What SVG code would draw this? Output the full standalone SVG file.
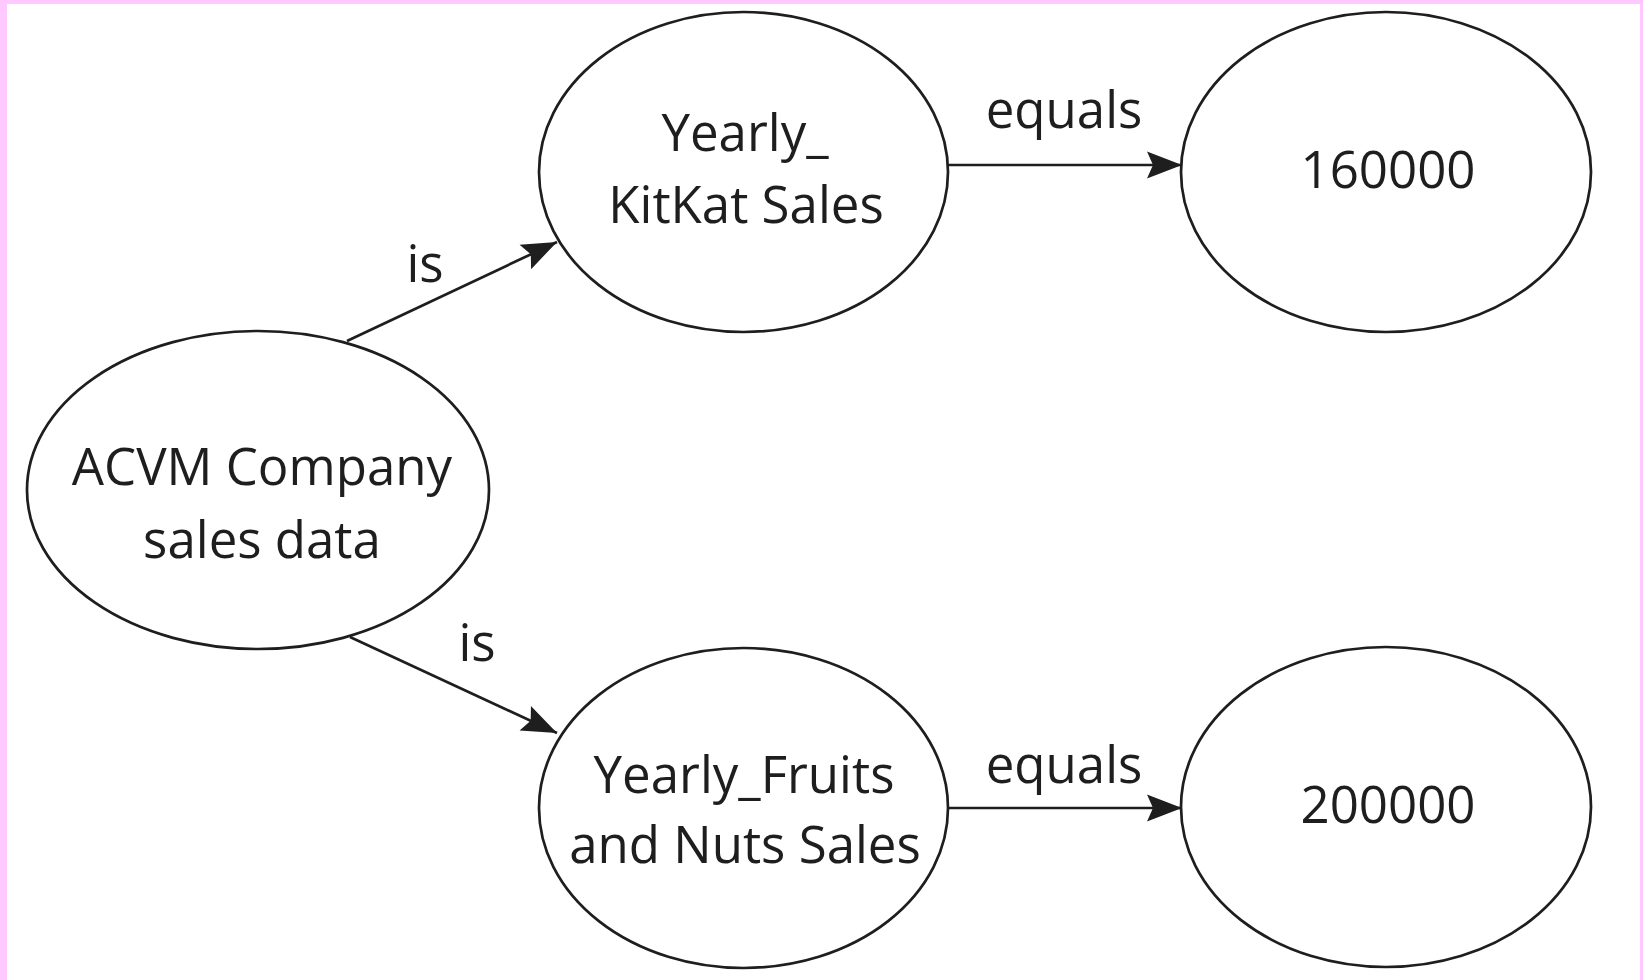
<svg xmlns="http://www.w3.org/2000/svg" width="1643" height="980" viewBox="0 0 1643 980">
  <style>
    .node { fill: #ffffff; stroke: #1e1e1e; stroke-width: 2.7; }
    .lbl { font-family: "Open Sans", "Liberation Sans", sans-serif; font-size: 51px; font-weight: 500; fill: #1e1e1e; text-anchor: middle; }
    .edge { stroke: #1e1e1e; stroke-width: 2.7; fill: none; marker-end: url(#arrow); }
  </style>
  <defs>
    <marker id="arrow" markerUnits="userSpaceOnUse" viewBox="-36 -15 37 30" markerWidth="37" markerHeight="30" refX="0" refY="0" orient="auto">
      <path d="M0,0 L-35,-13.5 L-29,0 L-35,13.5 Z" fill="#1e1e1e"/>
    </marker>
  </defs>
  <rect x="0" y="0" width="1643" height="980" fill="#ffffff"/>
  <rect x="0" y="0" width="7" height="980" fill="#ffc8ff"/>
  <rect x="0" y="0" width="1643" height="4" fill="#ffc8ff"/>
  <rect x="1640" y="0" width="3" height="980" fill="#ffc8ff"/>

  <g id="connectors">
    <line class="edge" x1="347" y1="341" x2="557" y2="242"/>
    <line class="edge" x1="350" y1="637" x2="557" y2="733"/>
    <line class="edge" x1="948" y1="165" x2="1182" y2="165"/>
    <line class="edge" x1="948" y1="808" x2="1182" y2="808"/>
    <text class="lbl" x="425" y="282">is</text>
    <text class="lbl" x="477" y="661">is</text>
    <text class="lbl" x="1064" y="128">equals</text>
    <text class="lbl" x="1064" y="783">equals</text>
  </g>

  <g id="node-acvm">
    <ellipse class="node" cx="258" cy="490" rx="231" ry="159"/>
    <text class="lbl" x="262" y="485">ACVM Company</text>
    <text class="lbl" x="262" y="558">sales data</text>
  </g>

  <g id="node-kitkat">
    <ellipse class="node" cx="743.5" cy="172" rx="204.5" ry="160"/>
    <text class="lbl" x="745" y="151">Yearly_</text>
    <text class="lbl" x="746" y="223">KitKat Sales</text>
  </g>

  <g id="node-160000">
    <ellipse class="node" cx="1386" cy="172" rx="205" ry="160"/>
    <text class="lbl" x="1388" y="188">160000</text>
  </g>

  <g id="node-fruits">
    <ellipse class="node" cx="743.5" cy="808" rx="204.5" ry="160"/>
    <text class="lbl" x="744" y="793">Yearly_Fruits</text>
    <text class="lbl" x="745" y="863">and Nuts Sales</text>
  </g>

  <g id="node-200000">
    <ellipse class="node" cx="1386" cy="807" rx="205" ry="160"/>
    <text class="lbl" x="1388" y="823">200000</text>
  </g>
</svg>
